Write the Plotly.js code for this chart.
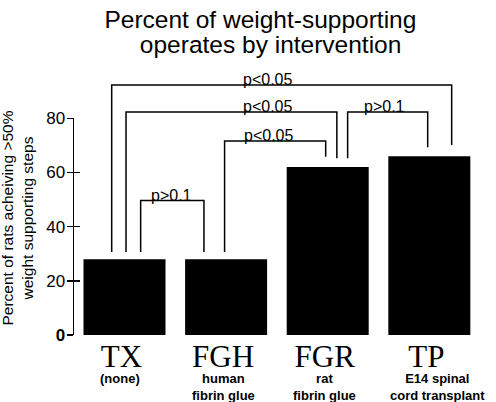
<!DOCTYPE html>
<html>
<head>
<meta charset="utf-8">
<script src="https://cdn.plot.ly/plotly-3.0.1.min.js"></script>
<style>html,body{margin:0;padding:0;background:#fff;}#chart{width:496px;height:402px;}</style>
</head>
<body>
<div id="chart"></div>
<script>
// ---- data ----
const categories = ['TX', 'FGH', 'FGR', 'TP'];
const subLabels = ['(none)', 'human<br>fibrin glue', 'rat<br>fibrin glue', 'E14 spinal<br>cord transplant'];
const percentValues = [28, 28, 62, 66];
const yTickVals = [0, 20, 40, 60, 80];
const yTickText = ['<b>0</b>', '20', '40', '60', '80'];

// pairwise comparison brackets (x in category units, y in percent)
const cmpLabels = ['p<0.05', 'p<0.05', 'p<0.05', 'p>0.1', 'p>0.1'];
const cmpLeftX = [-0.126, 0.015, 0.985, 2.196, 0.159];
const cmpRightX = [3.22, 2.09, 1.98, 2.984, 0.782];
const cmpTop = [92.3, 82.3, 71.6, 82.3, 49.6];
const cmpLeftEnd = [30.6, 30.6, 30.6, 65.2, 30.6];
const cmpRightEnd = [70.1, 65.2, 65.8, 69.3, 30.6];
const cmpLabelX = [1.41, 1.41, 1.42, 2.554, 0.465];

// ---- styling ----
const SANS = 'Liberation Sans, Arial, sans-serif';
const SERIF = 'Liberation Serif, Times New Roman, serif';
const xIdx = categories.map((c, i) => i);

const traces = [];
traces.push({
  type: 'bar', x: xIdx, y: percentValues, width: 0.807,
  marker: {color: '#000', line: {width: 0}},
  xaxis: 'x', yaxis: 'y', hoverinfo: 'skip', showlegend: false
});
for (let i = 0; i < cmpLabels.length; i++) {
  traces.push({
    type: 'scatter', mode: 'lines',
    x: [cmpLeftX[i], cmpLeftX[i], cmpRightX[i], cmpRightX[i]],
    y: [cmpLeftEnd[i], cmpTop[i], cmpTop[i], cmpRightEnd[i]],
    line: {color: '#000', width: 1.5},
    xaxis: 'x', yaxis: 'y2', hoverinfo: 'skip', showlegend: false
  });
}
// empty trace to carry the inner tick marks axis
traces.push({type: 'scatter', x: [], y: [], xaxis: 'x', yaxis: 'y3', showlegend: false, hoverinfo: 'skip'});

const annotations = [];
for (let i = 0; i < cmpLabels.length; i++) {
  annotations.push({
    xref: 'x', yref: 'y2', x: cmpLabelX[i], y: cmpTop[i],
    text: cmpLabels[i].replace('<', '&lt;').replace('>', '&gt;'),
    showarrow: false, xanchor: 'center', yanchor: 'bottom', yshift: -5,
    font: {family: SANS, size: 16, color: '#000'}
  });
}
const subShift = [-5, -3, -3, 8];
for (let i = 0; i < categories.length; i++) {
  annotations.push({
    xref: 'x', yref: 'paper', x: xIdx[i], y: 0,
    text: '<b>' + subLabels[i] + '</b>',
    showarrow: false, xanchor: 'center', yanchor: 'top', yshift: -34, xshift: subShift[i],
    font: {family: SANS, size: 13, color: '#000'}
  });
}
annotations.push({
  xref: 'paper', yref: 'paper', x: -0.1374, y: 0.4255,
  text: 'Percent of rats acheiving >50%<br>weight supporting steps'.replace('>', '&gt;'),
  textangle: -90, showarrow: false, xanchor: 'center', yanchor: 'middle',
  font: {family: SANS, size: 15.5, color: '#000'}
});

const layout = {
  width: 496, height: 402,
  margin: {l: 74, r: 11, t: 60, b: 67, pad: 0},
  paper_bgcolor: '#fff', plot_bgcolor: 'rgba(0,0,0,0)',
  showlegend: false,
  title: {
    text: "<span style='font-size:24.5px'>Percent of weight-supporting</span><br><span style='font-size:24.5px'>&nbsp;&nbsp;&nbsp;operates by intervention</span>",
    x: 0.525, xref: 'container', xanchor: 'center',
    y: 0.93, yref: 'container', yanchor: 'top',
    font: {family: SANS, size: 19, color: '#000'}
  },
  xaxis: {
    range: [-0.497, 3.548], tickvals: xIdx, ticktext: categories,
    tickfont: {family: SERIF, size: 31, color: '#000'},
    showline: false, showgrid: false, zeroline: false, ticks: '', ticklabelshift: -3,
    anchor: 'y', fixedrange: true
  },
  yaxis: {
    domain: [0, 0.788], range: [0, 80],
    tickvals: yTickVals, ticktext: yTickText,
    tickfont: {family: SANS, size: 17, color: '#000'},
    showline: true, linecolor: '#000', linewidth: 1.5,
    ticks: 'outside', ticklen: 6, tickwidth: 1.5, tickcolor: '#000',
    ticklabelstandoff: -2,
    showgrid: false, zeroline: false, anchor: 'x', fixedrange: true
  },
  yaxis2: {
    domain: [0, 1], range: [0, 101.5], visible: false, anchor: 'x', fixedrange: true
  },
  yaxis3: {
    overlaying: 'y', range: [0, 80], tickvals: yTickVals,
    ticks: 'inside', ticklen: 6, tickwidth: 1.5, tickcolor: '#000',
    showticklabels: false, showline: false, showgrid: false, zeroline: false,
    side: 'left', anchor: 'x', fixedrange: true
  },
  annotations: annotations
};

Plotly.newPlot('chart', traces, layout, {staticPlot: true, displayModeBar: false});
</script>
</body>
</html>
